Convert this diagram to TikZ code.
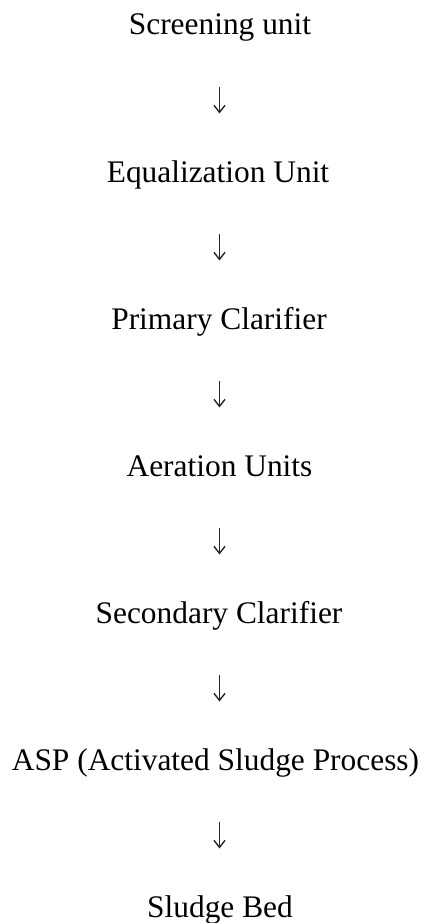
\documentclass[tikz,border=0pt]{standalone}
\usepackage{fontspec}
\setmainfont{Liberation Serif}
\usetikzlibrary{arrows.meta}
\begin{document}
\begin{tikzpicture}[x=1pt,y=1pt,
  lbl/.style={anchor=base,inner sep=0pt,font=\fontsize{31.4}{36}\selectfont},
  flow/.style={line width=1.3pt,color=black!85,
    -{Straight Barb[length=7pt,width=11pt,line width=1.4pt]}}]
\useasboundingbox (0,0) rectangle (429,-923);
\node[lbl] (s1) at (220,-35) {Screening unit};
\node[lbl] (s2) at (218,-182) {Equalization Unit};
\node[lbl] (s3) at (219,-329) {Primary Clarifier};
\node[lbl] (s4) at (219.5,-476) {Aeration Units};
\node[lbl] (s5) at (219,-623) {Secondary Clarifier};
\node[lbl] (s6) at (215.5,-770) {ASP (Activated Sludge Process)};
\node[lbl] (s7) at (220,-917) {Sludge Bed};
\foreach \k in {0,...,5}{
  \coordinate (t\k) at (219.5,{-87-147*\k});
  \coordinate (b\k) at (219.5,{-113.5-147*\k});
  \draw[flow] (t\k) -- (b\k);
}
\end{tikzpicture}
\end{document}
